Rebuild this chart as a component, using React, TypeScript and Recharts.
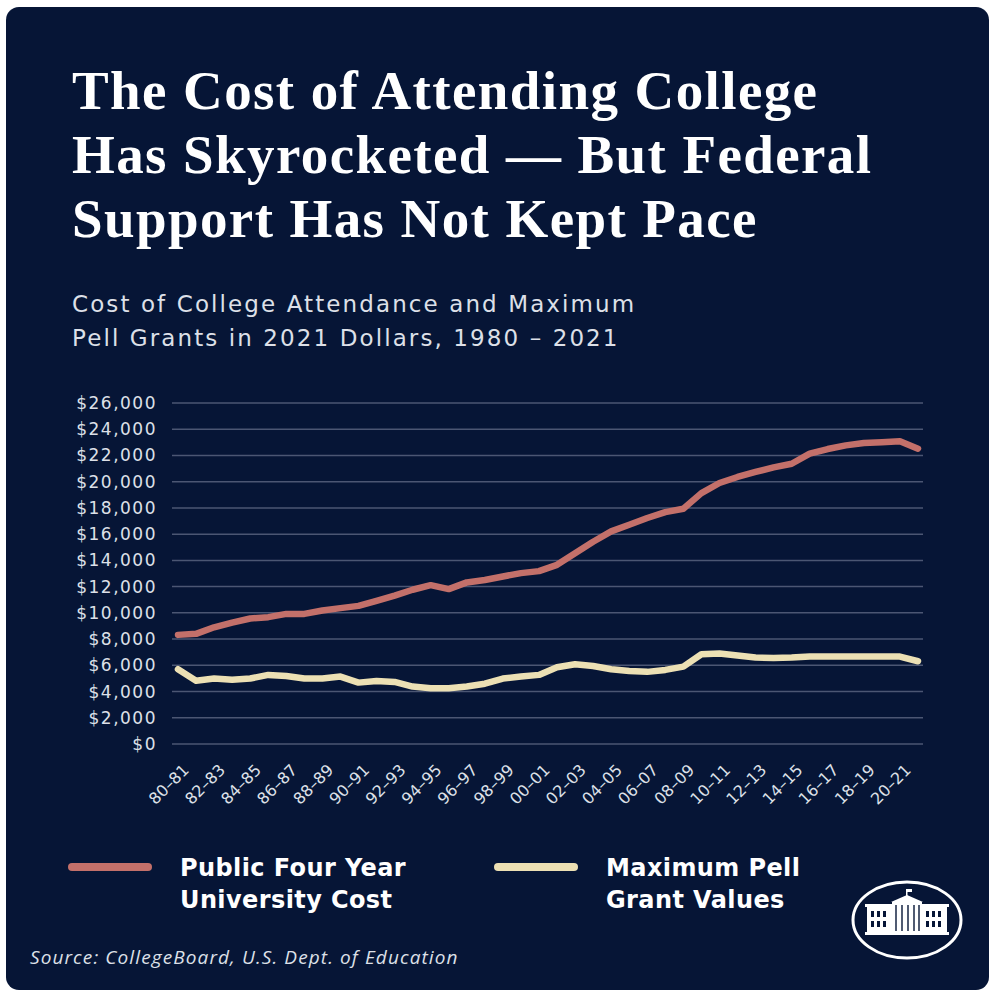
import React from "react";
import { LineChart, Line, XAxis, YAxis, CartesianGrid } from "recharts";

const years = [
  "80–81", "81–82", "82–83", "83–84", "84–85", "85–86", "86–87", "87–88", "88–89", "89–90",
  "90–91", "91–92", "92–93", "93–94", "94–95", "95–96", "96–97", "97–98", "98–99", "99–00",
  "00–01", "01–02", "02–03", "03–04", "04–05", "05–06", "06–07", "07–08", "08–09", "09–10",
  "10–11", "11–12", "12–13", "13–14", "14–15", "15–16", "16–17", "17–18", "18–19", "19–20",
  "20–21", "21–22",
];

const universityCost = [
  8320, 8400, 8900, 9260, 9570, 9670, 9920, 9920, 10180, 10360,
  10530, 10920, 11320, 11760, 12110, 11810, 12320, 12500, 12770, 13030,
  13180, 13660, 14550, 15420, 16210, 16720, 17230, 17680, 17940, 19130,
  19900, 20360, 20740, 21090, 21370, 22140, 22490, 22770, 22950, 23000,
  23080, 22520,
];

const pellMax = [
  5700, 4830, 4990, 4890, 4990, 5270, 5190, 4990, 4990, 5140,
  4680, 4810, 4730, 4380, 4250, 4250, 4380, 4600, 4990, 5140,
  5270, 5850, 6080, 5950, 5700, 5570, 5500, 5650, 5900, 6840,
  6900, 6740, 6590, 6560, 6590, 6670, 6670, 6670, 6670, 6670,
  6670, 6310,
];

const yTicks = [0, 2000, 4000, 6000, 8000, 10000, 12000, 14000, 16000, 18000, 20000, 22000, 24000, 26000];

const titleLines = [
  "The Cost of Attending College",
  "Has Skyrocketed — But Federal",
  "Support Has Not Kept Pace",
];
const subtitleLines = [
  "Cost of College Attendance and Maximum",
  "Pell Grants in 2021 Dollars, 1980 – 2021",
];

const series = [
  { key: "cost", name: ["Public Four Year", "University Cost"], color: "#c3706a" },
  { key: "pell", name: ["Maximum Pell", "Grant Values"], color: "#ece0b4" },
];

const data = years.map((y, i) => ({ year: y, cost: universityCost[i], pell: pellMax[i] }));

const BG = "#061536";
const TEXT = "#dde0e8";

const XTick = (props: any) => {
  const { x, y, payload } = props;
  const ox = x + 12;
  const oy = y + 19;
  return (
    <text
      x={ox}
      y={oy}
      transform={`rotate(-45, ${ox}, ${oy})`}
      textAnchor="end"
      fill={TEXT}
      fontSize={16}
      fontFamily="DejaVu Sans"
    >
      {payload.value}
    </text>
  );
};

const Logo = () => (
  <g>
    <ellipse cx={907} cy={920} rx={54} ry={38} fill="none" stroke="#fff" strokeWidth={3} />
    {/* wings */}
    <rect x={867} y={907} width={80} height={25} fill="#fff" />
    <rect x={865} y={904} width={84} height={3} fill="#fff" />
    {[871, 877, 883, 926, 932, 938].map((wx) => (
      <g key={wx}>
        <rect x={wx} y={911} width={3} height={6} fill={BG} />
        <rect x={wx} y={921} width={3} height={6} fill={BG} />
      </g>
    ))}
    {/* portico */}
    <polygon points="891,902 907,895 923,902" fill="#fff" />
    <rect x={892} y={902} width={30} height={32} fill="#fff" />
    {[895, 901, 907, 913, 918].map((cx) => (
      <rect key={cx} x={cx} y={905} width={2} height={26} fill={BG} opacity={0.7} />
    ))}
    <rect x={906} y={889} width={1.5} height={7} fill="#fff" />
    <rect x={907} y={889} width={5} height={3} fill="#fff" />
    <rect x={865} y={932} width={84} height={3} fill="#fff" />
  </g>
);

export default function App() {
  return (
    <div style={{ position: "absolute", left: 0, top: 0, width: 1004, height: 1000, background: "#fff" }}>
      <div
        style={{
          position: "absolute",
          left: 6,
          top: 7,
          width: 983,
          height: 983,
          background: BG,
          borderRadius: 13,
        }}
      />
      <svg style={{ position: "absolute", left: 0, top: 0 }} width={1004} height={1000}>
        {titleLines.map((t, i) => (
          <text
            key={t}
            x={72}
            y={109 + i * 64}
            fill="#fff"
            fontFamily="Liberation Serif"
            fontWeight={700}
            fontSize={55}
            letterSpacing={1.4}
          >
            {t}
          </text>
        ))}
        {subtitleLines.map((t, i) => (
          <text key={t} x={72} y={312 + i * 34} fill={TEXT} fontFamily="DejaVu Sans" fontSize={23} letterSpacing={2.1}>
            {t}
          </text>
        ))}
        {series.map((s, i) => {
          const lx = 68 + i * 426;
          return (
            <g key={s.key}>
              <line x1={lx + 4} x2={lx + 80} y1={867} y2={867} stroke={s.color} strokeWidth={8} strokeLinecap="round" />
              {s.name.map((n, j) => (
                <text
                  key={n}
                  x={lx + 112}
                  y={876 + j * 32}
                  fill="#fff"
                  fontFamily="DejaVu Sans"
                  fontWeight={700}
                  fontSize={24}
                  letterSpacing={0.4}
                >
                  {n}
                </text>
              ))}
            </g>
          );
        })}
        <text x={30} y={964} fill={TEXT} fontFamily="Open Sans" fontStyle="italic" fontSize={19} letterSpacing={1.1}>
          Source: CollegeBoard, U.S. Dept. of Education
        </text>
        <Logo />
      </svg>
      <div style={{ position: "absolute", left: 72, top: 393 }}>
        <LineChart width={860} height={420} data={data} margin={{ top: 10, right: 9, left: 0, bottom: 0 }}>
          <CartesianGrid vertical={false} stroke="#4b5673" strokeWidth={1.5} />
          <XAxis
            dataKey="year"
            interval={1}
            axisLine={false}
            tickLine={false}
            tick={<XTick />}
            height={69}
            padding={{ left: 6, right: 5 }}
          />
          <YAxis
            domain={[0, 26000]}
            ticks={yTicks}
            interval={0}
            width={100}
            axisLine={false}
            tickLine={false}
            tickMargin={9}
            tick={{ fill: TEXT, fontSize: 17, fontFamily: "DejaVu Sans", letterSpacing: 1.5 }}
            tickFormatter={(v: number) => `$${v.toLocaleString("en-US")}`}
          />
          <Line dataKey="cost" stroke={series[0].color} strokeWidth={6.5} dot={false} isAnimationActive={false} strokeLinejoin="round" strokeLinecap="round" />
          <Line dataKey="pell" stroke={series[1].color} strokeWidth={6.5} dot={false} isAnimationActive={false} strokeLinejoin="round" strokeLinecap="round" />
        </LineChart>
      </div>
    </div>
  );
}
